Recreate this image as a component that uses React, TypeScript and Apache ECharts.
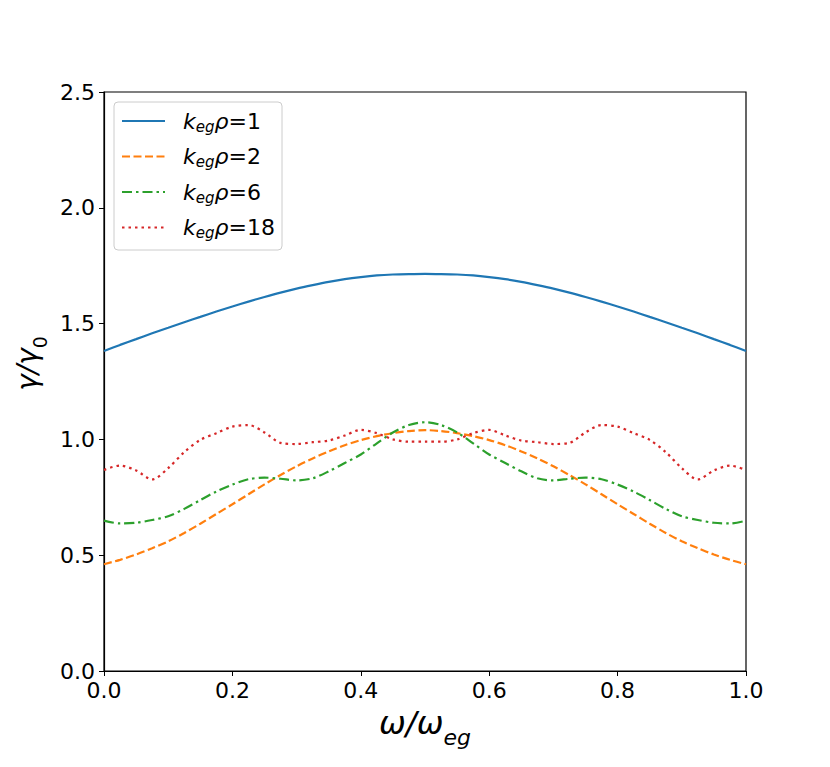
import React, { useEffect, useRef } from "react";
import * as echarts from "echarts";

const xs = [
  0, 0.025, 0.05, 0.075, 0.1, 0.125, 0.15, 0.175, 0.2, 0.225, 0.25, 0.275, 0.3, 0.325, 0.35, 0.375, 0.4, 0.425, 0.45, 0.475,
  0.5, 0.525, 0.55, 0.575, 0.6, 0.625, 0.65, 0.675, 0.7, 0.725, 0.75, 0.775, 0.8, 0.825, 0.85, 0.875, 0.9, 0.925, 0.95, 0.975, 1,
];

const k1 = [
  1.382, 1.408, 1.433, 1.458, 1.482, 1.506, 1.529, 1.552, 1.574, 1.595, 1.615, 1.634, 1.651, 1.666, 1.680, 1.692, 1.701, 1.708, 1.712, 1.714,
  1.715, 1.714, 1.712, 1.708, 1.701, 1.692, 1.680, 1.666, 1.651, 1.634, 1.615, 1.595, 1.574, 1.552, 1.529, 1.506, 1.482, 1.458, 1.433, 1.408, 1.382,
];

const k2 = [
  0.461, 0.480, 0.503, 0.530, 0.560, 0.596, 0.636, 0.678, 0.720, 0.763, 0.806, 0.846, 0.884, 0.918, 0.948, 0.975, 0.997, 1.014, 1.027, 1.036,
  1.040, 1.036, 1.027, 1.014, 0.997, 0.975, 0.948, 0.918, 0.884, 0.846, 0.806, 0.763, 0.720, 0.678, 0.636, 0.596, 0.560, 0.530, 0.503, 0.480, 0.461,
];

const k6 = [
  0.649, 0.637, 0.640, 0.652, 0.668, 0.700, 0.738, 0.775, 0.805, 0.828, 0.835, 0.830, 0.823, 0.832, 0.862, 0.898, 0.935, 0.983, 1.030, 1.062,
  1.074, 1.062, 1.030, 0.983, 0.935, 0.898, 0.862, 0.832, 0.823, 0.830, 0.835, 0.828, 0.805, 0.775, 0.738, 0.700, 0.668, 0.652, 0.640, 0.637, 0.649,
];

const k18 = [
  0.868, 0.887, 0.866, 0.827, 0.876, 0.945, 0.998, 1.027, 1.055, 1.062, 1.030, 0.985, 0.980, 0.988, 0.995, 1.017, 1.041, 1.027, 1.000, 0.990,
  0.990, 0.990, 1.000, 1.027, 1.041, 1.017, 0.995, 0.988, 0.980, 0.985, 1.030, 1.062, 1.055, 1.027, 0.998, 0.945, 0.876, 0.827, 0.866, 0.887, 0.868,
];

const seriesNames = ["k=1", "k=2", "k=6", "k=18"];
const legendLabels = ["1", "2", "6", "18"];
const seriesValues = [k1, k2, k6, k18];
const colors = ["#1f77b4", "#ff7f0e", "#2ca02c", "#d62728"];
const dashTypes: any[] = ["solid", [8, 3.5], [10, 4, 2.5, 4], [2.5, 4]];

const xTicks = [0, 0.2, 0.4, 0.6, 0.8, 1.0];
const yTicks = [0, 0.5, 1.0, 1.5, 2.0, 2.5];

const FONT = "DejaVu Sans";

const LEG_X = 114;
const LEG_Y = 102;
const LEG_W = 168;
const LEG_H = 148;
const LEG_ROW0 = 121;
const LEG_ROW_GAP = 35.5;

export default function App() {
  const ref = useRef<HTMLDivElement>(null);
  useEffect(() => {
    if (!ref.current) return;
    const chart = echarts.init(ref.current, undefined, { renderer: "svg" });
    const series = seriesNames.map((name, i) => ({
      name,
      type: "line",
      data: xs.map((x, j) => [x, seriesValues[i][j]]),
      smooth: 0.3,
      symbol: "none",
      lineStyle: { color: colors[i], width: 2.2, type: dashTypes[i] },
      itemStyle: { color: colors[i] },
    }));

    const legendChildren: any[] = [
      {
        type: "rect",
        shape: { x: LEG_X, y: LEG_Y, width: LEG_W, height: LEG_H, r: 4 },
        style: { fill: "rgba(255,255,255,0.85)", stroke: "#cccccc", lineWidth: 1 },
      },
    ];
    seriesNames.forEach((_, i) => {
      const y = LEG_ROW0 + i * LEG_ROW_GAP;
      const d = dashTypes[i];
      legendChildren.push({
        type: "line",
        shape: { x1: 122, y1: y, x2: 165, y2: y },
        style: {
          stroke: colors[i],
          lineWidth: 2.2,
          lineDash: d === "solid" ? null : d,
        },
      });
      legendChildren.push({
        type: "text",
        x: 183,
        y: y,
        style: {
          text: "{k|k}{s|eg}{p|ρ}{r|=" + legendLabels[i] + "}",
          verticalAlign: "middle",
          align: "left",
          rich: {
            k: { fontFamily: FONT, fontSize: 22, fontStyle: "italic", fill: "#000" },
            s: { fontFamily: FONT, fontSize: 15, fontStyle: "italic", fill: "#000", padding: [11, 0, 0, 0] },
            p: { fontFamily: FONT, fontSize: 22, fontStyle: "italic", fill: "#000" },
            r: { fontFamily: FONT, fontSize: 22, fill: "#000" },
          },
        },
      });
    });

    chart.setOption({
      animation: false,
      backgroundColor: "#ffffff",
      grid: {
        left: 104,
        right: 84,
        top: 92,
        bottom: 96,
        show: true,
        borderColor: "#000",
        borderWidth: 1.2,
        backgroundColor: "transparent",
      },
      graphic: [{ type: "group", z: 100, children: legendChildren }],
      xAxis: {
        type: "value",
        min: 0,
        max: 1,
        interval: 0.2,
        name: "{a|ω/ω}{b|eg}",
        nameLocation: "middle",
        nameGap: 36,
        nameTextStyle: {
          rich: {
            a: { fontFamily: FONT, fontSize: 32, fontStyle: "italic", color: "#000", verticalAlign: "bottom" },
            b: { fontFamily: FONT, fontSize: 22, fontStyle: "italic", color: "#000", padding: [0, 0, -9, 0], verticalAlign: "bottom" },
          },
        },
        axisLine: { show: true, onZero: false, lineStyle: { color: "#000", width: 1.2 } },
        axisTick: { show: true, inside: false, length: 5, lineStyle: { color: "#000", width: 1 } },
        axisLabel: {
          fontFamily: FONT,
          fontSize: 22,
          color: "#000",
          margin: 8,
          formatter: (v: number) => (xTicks.some((t) => Math.abs(t - v) < 1e-9) ? v.toFixed(1) : ""),
        },
        splitLine: { show: false },
      },
      yAxis: {
        type: "value",
        min: 0,
        max: 2.5,
        interval: 0.5,
        name: "{a|γ/γ}{b|0}",
        nameLocation: "middle",
        nameGap: 62,
        nameRotate: 90,
        nameTextStyle: {
          padding: [0, 0, 0, 36],
          rich: {
            a: { fontFamily: FONT, fontSize: 28, fontStyle: "italic", color: "#000", verticalAlign: "bottom" },
            b: { fontFamily: FONT, fontSize: 19, color: "#000", padding: [0, 0, -8, 0], verticalAlign: "bottom" },
          },
        },
        axisLine: { show: true, onZero: false, lineStyle: { color: "#000", width: 1.2 } },
        axisTick: { show: true, inside: false, length: 5, lineStyle: { color: "#000", width: 1 } },
        axisLabel: {
          fontFamily: FONT,
          fontSize: 22,
          color: "#000",
          margin: 9,
          formatter: (v: number) => (yTicks.some((t) => Math.abs(t - v) < 1e-9) ? v.toFixed(1) : ""),
        },
        splitLine: { show: false },
      },
      series,
    });
    return () => chart.dispose();
  }, []);
  return (
    <div
      ref={ref}
      style={{ position: "fixed", left: 0, top: 0, width: 830, height: 767, background: "#fff" }}
    />
  );
}
